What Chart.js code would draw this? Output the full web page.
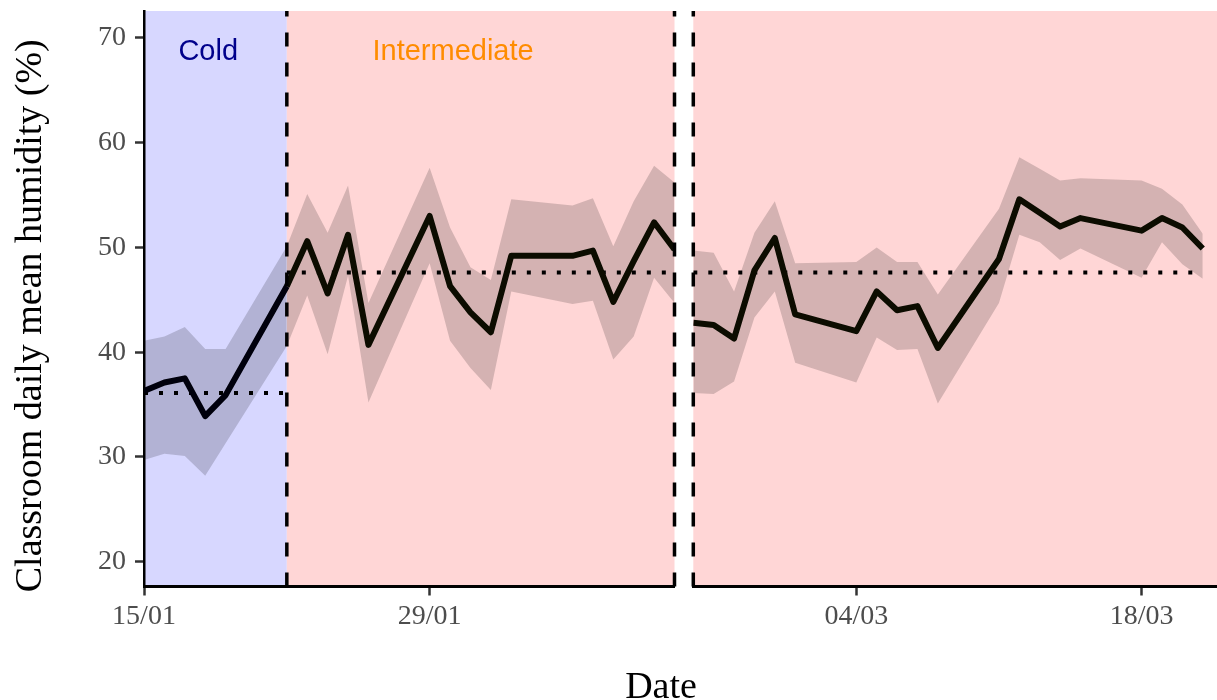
<!DOCTYPE html>
<html>
<head>
<meta charset="utf-8">
<script src="https://cdn.jsdelivr.net/npm/chart.js@4.4.1/dist/chart.umd.min.js"></script>
<style>
  html, body { margin: 0; padding: 0; background: #fff; overflow: hidden; }
  #wrap { position: relative; width: 1217px; height: 700px; }
  #leftBox { position: absolute; left: 0; top: 0; width: 680px; height: 700px; }
  #rightBox { position: absolute; left: 680px; top: 0; width: 537px; height: 700px; }
  #xTitle { position: absolute; left: 561px; width: 200px; top: 666px; text-align: center;
            font: 38px "Liberation Serif", "Times New Roman", serif; line-height: 38px; color: #000; }
</style>
</head>
<body>
<div id="wrap">
  <div id="leftBox"><canvas id="leftChart"></canvas></div>
  <div id="rightBox"><canvas id="rightChart"></canvas></div>
  <div id="xTitle">Date</div>
</div>
<script>
// cold period (left panel)
const coldDates = ['15/01', '16/01', '17/01', '18/01', '19/01', '22/01'];
const coldMean  = [36.3, 37.1, 37.5, 33.9, 35.9, 46.3];
const coldUpper = [41.1, 41.5, 42.4, 40.3, 40.3, 50.1];
const coldLower = [29.7, 30.3, 30.1, 28.2, 31.3, 40.6];

// intermediate period, first part (left panel)
const interDates = ['22/01', '23/01', '24/01', '25/01', '26/01', '29/01', '30/01', '31/01',
                    '01/02', '02/02', '05/02', '06/02', '07/02', '08/02', '09/02', '10/02'];
const interMean  = [46.3, 50.6, 45.6, 51.2, 40.7, 53.0, 46.3, 43.8, 41.9, 49.2, 49.2, 49.7, 44.8, 48.7, 52.4, 49.8];
const interUpper = [50.1, 55.1, 51.4, 55.9, 44.7, 57.6, 51.9, 48.1, 46.9, 54.6, 54.0, 54.7, 50.1, 54.4, 57.8, 56.2];
const interLower = [40.6, 45.4, 39.8, 47.3, 35.2, 48.5, 41.1, 38.5, 36.4, 45.8, 44.6, 44.9, 39.3, 41.5, 47.1, 44.7];

// intermediate period, second part (right panel)
const lateDates = ['24/02', '25/02', '26/02', '27/02', '28/02', '01/03', '04/03', '05/03', '06/03', '07/03',
                   '08/03', '11/03', '12/03', '13/03', '14/03', '15/03', '18/03', '19/03', '20/03', '21/03'];
const lateMean  = [42.8, 42.6, 41.3, 47.8, 50.9, 43.6, 42.0, 45.8, 44.0, 44.4, 40.4, 48.9, 54.6, 53.3, 52.0, 52.8, 51.6, 52.8, 51.9, 49.9];
const lateUpper = [49.7, 49.5, 45.8, 51.4, 54.4, 48.5, 48.6, 50.0, 48.6, 48.6, 45.5, 53.7, 58.6, 57.5, 56.4, 56.6, 56.4, 55.6, 54.1, 51.3];
const lateLower = [36.1, 36.0, 37.2, 43.3, 45.8, 39.0, 37.1, 41.4, 40.2, 40.3, 35.1, 44.7, 51.2, 50.5, 48.8, 49.9, 47.1, 50.5, 48.4, 47.0];

// periods: label, start, end, overall mean
const periodNames = ['Cold', 'Intermediate'];
const periodStart = ['15/01', '22/01'];
const periodEnd   = ['22/01', '10/02'];
const periodMean  = [36.1, 47.6];
const periodLabelAt = ['18/01', '30/01'];
const lateStart = '24/02';
const lateEnd   = '21/03';
const boundaryDates = ['22/01', '10/02', '24/02'];

const leftTicks  = ['15/01', '29/01'];
const rightTicks = ['04/03', '18/03'];
const yTicks = [20, 30, 40, 50, 60, 70];

const monthStart = [0, 31, 59, 90, 120, 151, 181, 212, 243, 273, 304, 334];
function doy(s) {
    const [d, m] = s.split('/').map(Number);
    return monthStart[m - 1] + d;
}
function fmt(v) {
    let m = 11;
    while (m > 0 && v <= monthStart[m]) m--;
    const d = Math.round(v - monthStart[m]);
    return String(d).padStart(2, '0') + '/' + String(m + 1).padStart(2, '0');
}
function pts(dates, vals) {
    return dates.map((d, i) => ({ x: doy(d), y: vals[i] }));
}

const serif = '"Liberation Serif", "Times New Roman", serif';
const sans = '"Liberation Sans", Arial, sans-serif';
const ribbon = 'rgba(0, 0, 0, 0.17)';
const bgColor = { cold: '#d7d7ff', intermediate: '#ffd6d6' };
const textColor = { cold: '#00008b', intermediate: '#ff8c00' };
const Y_MIN = 17.63, Y_MAX = 72.57;

function ribbonSets(dates, up, lo) {
    return [
        { data: pts(dates, up), fill: '+1', backgroundColor: ribbon, borderColor: 'transparent',
          borderWidth: 0, pointRadius: 0, order: 3 },
        { data: pts(dates, lo), fill: false, borderColor: 'transparent', borderWidth: 0,
          pointRadius: 0, order: 3 }
    ];
}
function meanLine(from, to, value) {
    return { data: [{ x: doy(from), y: value }, { x: doy(to), y: value }], borderColor: '#000',
             borderWidth: 4, borderDash: [4, 11], borderCapStyle: 'butt', pointRadius: 0, fill: false, order: 1 };
}
function mainLine(dates, vals, color) {
    return { data: pts(dates, vals), borderColor: color, borderWidth: 6, borderJoinStyle: 'round',
             borderCapStyle: 'butt', pointRadius: 0, fill: false, order: 0 };
}

// backgrounds, dashed boundaries, period labels and the y title
const periodDecor = {
    id: 'periodDecor',
    beforeDraw(chart, args, opts) {
        const { ctx, chartArea: a, scales: { x } } = chart;
        ctx.save();
        opts.bands.forEach(b => {
            const x0 = Math.max(a.left, x.getPixelForValue(doy(b.from)));
            const x1 = b.toEdge ? a.right : Math.min(a.right, x.getPixelForValue(doy(b.to)));
            if (x1 > x0) {
                ctx.fillStyle = bgColor[b.kind];
                ctx.fillRect(x0, a.top, x1 - x0, a.bottom - a.top);
            }
        });
        ctx.restore();
    },
    afterDatasetsDraw(chart, args, opts) {
        const { ctx, chartArea: a, scales: { x, y } } = chart;
        ctx.save();
        ctx.strokeStyle = '#000';
        ctx.lineWidth = 3.5;
        ctx.setLineDash([14, 16]);
        boundaryDates.forEach(d => {
            const v = doy(d);
            if (v < x.min - 0.01 || v > x.max + 0.01) return;
            const px = x.getPixelForValue(v);
            ctx.beginPath();
            ctx.moveTo(px, a.bottom);
            ctx.lineTo(px, a.top);
            ctx.stroke();
        });
        ctx.setLineDash([]);
        ctx.font = '29px ' + sans;
        ctx.textAlign = 'center';
        ctx.textBaseline = 'middle';
        (opts.labels || []).forEach(l => {
            ctx.fillStyle = textColor[l.kind];
            ctx.fillText(l.text, x.getPixelForValue(doy(l.at)) + 3, y.getPixelForValue(68.7));
        });
        if (opts.yTitle) {
            ctx.translate(31, (a.top + a.bottom) / 2 + 17);
            ctx.rotate(-Math.PI / 2);
            ctx.font = '38px ' + serif;
            ctx.fillStyle = '#000';
            ctx.fillText(opts.yTitle, 0, 0);
        }
        ctx.restore();
    }
};

const tickGrid = { display: true, drawOnChartArea: false, drawTicks: true, tickLength: 9,
                   tickWidth: 2.5, tickColor: '#333333', color: '#333333' };
const tickFont = { family: serif, size: 28 };

function xScale(min, max, ticks) {
    return {
        type: 'linear', min: min, max: max,
        afterBuildTicks: s => { s.ticks = ticks.map(t => ({ value: doy(t) })); },
        ticks: { callback: v => fmt(v), font: tickFont, color: '#4d4d4d', padding: 4,
                 maxRotation: 0, autoSkip: false },
        grid: tickGrid,
        border: { display: true, color: '#000', width: 3 },
        afterFit: s => { s.height = 113.5; s.paddingLeft = 0; s.paddingRight = 0; }
    };
}

const common = {
    responsive: true,
    maintainAspectRatio: false,
    animation: false,
    plugins: { legend: { display: false }, tooltip: { enabled: false } }
};

new Chart(document.getElementById('leftChart'), {
    type: 'line',
    data: {
        datasets: [
            mainLine(coldDates, coldMean, '#00000c'),
            mainLine(interDates, interMean, '#0c0c00'),
            meanLine(periodStart[0], periodEnd[0], periodMean[0]),
            meanLine(periodStart[1], periodEnd[1], periodMean[1]),
            ...ribbonSets(coldDates, coldUpper, coldLower),
            ...ribbonSets(interDates, interUpper, interLower)
        ]
    },
    options: {
        ...common,
        layout: { padding: { left: 0, right: 5.5, top: 11, bottom: 0 } },
        scales: {
            x: xScale(doy(periodStart[0]), doy(periodEnd[1]), leftTicks),
            y: {
                min: Y_MIN, max: Y_MAX,
                afterBuildTicks: s => { s.ticks = yTicks.map(v => ({ value: v })); },
                ticks: { font: tickFont, color: '#4d4d4d', padding: 9 },
                grid: tickGrid,
                border: { display: true, color: '#000', width: 2.5 },
                afterFit: s => { s.width = 144; s.paddingTop = 0; s.paddingBottom = 0; }
            }
        },
        plugins: {
            ...common.plugins,
            periodDecor: {
                bands: [
                    { from: periodStart[0], to: periodEnd[0], kind: 'cold' },
                    { from: periodStart[1], to: periodEnd[1], kind: 'intermediate' }
                ],
                labels: [
                    { text: periodNames[0], at: periodLabelAt[0], kind: 'cold' },
                    { text: periodNames[1], at: periodLabelAt[1], kind: 'intermediate' }
                ],
                yTitle: 'Classroom daily mean humidity (%)'
            }
        }
    },
    plugins: [periodDecor]
});

new Chart(document.getElementById('rightChart'), {
    type: 'line',
    data: {
        datasets: [
            mainLine(lateDates, lateMean, '#0c0c00'),
            meanLine(lateStart, lateEnd, periodMean[1]),
            ...ribbonSets(lateDates, lateUpper, lateLower)
        ]
    },
    options: {
        ...common,
        layout: { padding: { left: 13.3, right: 0, top: 11, bottom: 0 } },
        scales: {
            x: xScale(doy(lateStart), doy(lateEnd) + 0.7, rightTicks),
            y: { display: false, min: Y_MIN, max: Y_MAX }
        },
        plugins: {
            ...common.plugins,
            periodDecor: {
                bands: [{ from: lateStart, to: lateEnd, toEdge: true, kind: 'intermediate' }],
                labels: []
            }
        }
    },
    plugins: [periodDecor]
});
</script>
</body>
</html>
